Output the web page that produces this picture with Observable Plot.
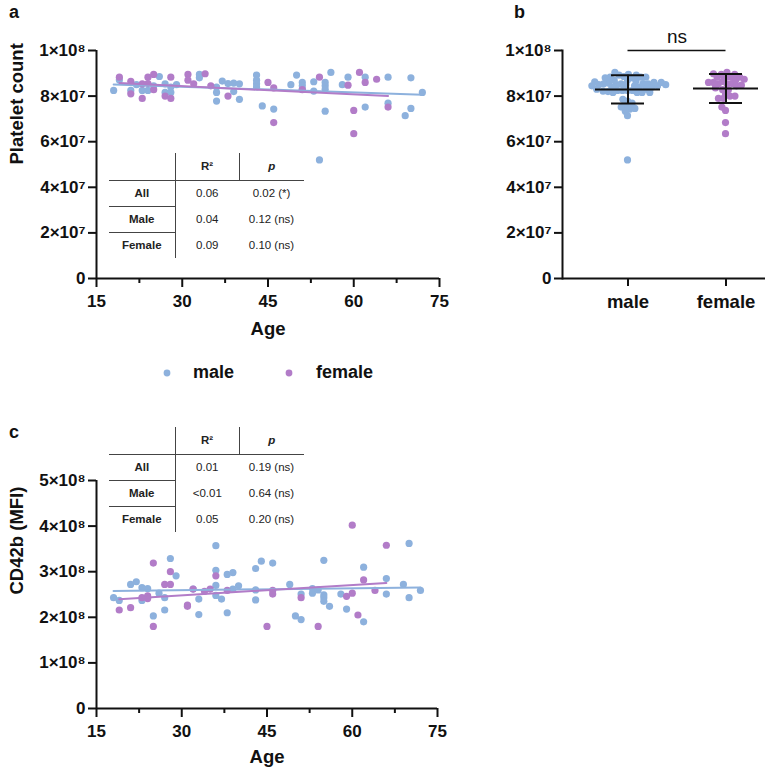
<!DOCTYPE html>
<html><head><meta charset="utf-8">
<script src="https://cdn.jsdelivr.net/npm/d3@7"></script>
<script src="https://cdn.jsdelivr.net/npm/@observablehq/plot@0.6"></script>
<style>
html,body{margin:0;padding:0;background:#fff;overflow:hidden}
#fig{position:relative;width:765px;height:772px;font-family:"Liberation Sans",Arial,sans-serif;color:#111}
.layer{position:absolute}
.plab{position:absolute;font-weight:bold;font-size:18px}
table.stat{position:absolute;border-collapse:collapse;table-layout:fixed;font-size:11.5px;color:#222}
table.stat td{padding:0;text-align:center;vertical-align:middle;white-space:nowrap}
table.stat td.lab{font-weight:bold}
table.stat .hd{font-weight:bold}
.legend{position:absolute;font-weight:bold;font-size:18px;line-height:20px}
.legend span.it{position:absolute;white-space:nowrap}
</style></head>
<body><div id="fig"></div>
<script>
// ---------- data ----------
const sexes = ["male", "female"];
const colors = ["#8db1dd", "#b27cc8"];

const maleAgeA = [18,19,21,22,23,24,25,26,27,27,28,28,29,33,33,36,36,36,37,38,39,39,40,40,43,43,43,43,44,46,49,50,51,51,51,53,53,54,55,55,55,55,56,58,59,62,62,66,66,69,70,70,72];
const malePltA = [8.25,8.71,8.25,8.5,8.25,8.25,8.45,8.86,8.54,8.16,8.16,8.4,8.5,8.95,8.8,8.4,8.16,7.78,8.66,8.55,8.57,8.2,8.54,7.86,8.92,8.7,8.54,8.4,7.57,7.43,8.5,8.92,8.6,8.45,8.3,8.63,8.22,5.2,8.6,8.45,8.3,7.34,9.04,8.5,8.83,8.83,7.52,8.83,7.69,7.14,8.8,7.46,8.16]; // ×1e7
const femaleAgeA = [19,21,21,23,23,24,24,25,25,27,28,28,31,31,32,34,35,38,45,46,46,51,54,59,60,60,61,62,64,66];
const femalePltA = [8.83,8.65,8.1,8.54,7.9,8.83,8.55,8.95,8.28,8.0,8.83,7.9,8.95,8.7,8.54,8.98,8.45,8.0,8.6,8.36,6.84,8.28,8.83,8.48,7.37,6.35,9.04,8.6,8.74,7.52]; // ×1e7

const maleAgeC = [18,19,21,22,23,23,24,25,26,27,27,28,29,32,33,33,36,36,36,36,37,38,38,39,39,40,43,43,43,44,46,49,50,51,51,53,53,54,55,55,55,55,56,58,59,62,62,66,66,69,70,70,72];
const maleCdC = [2.43,2.37,2.72,2.78,2.65,2.37,2.63,2.03,2.53,2.43,2.16,3.29,2.91,2.62,2.4,2.06,3.57,3.03,2.7,2.48,2.4,2.94,2.1,2.98,2.62,2.69,3.07,2.6,2.38,3.23,3.19,2.72,2.03,2.51,1.95,2.63,2.53,2.6,3.25,2.49,2.43,2.35,2.24,2.51,2.18,3.1,1.9,2.85,2.51,2.72,3.62,2.43,2.59]; // ×1e8
const femaleAgeC = [19,21,23,24,24,25,25,27,28,28,31,31,32,34,35,36,38,45,46,46,51,54,59,60,60,61,62,64,66];
const femaleCdC = [2.16,2.21,2.43,2.47,2.41,3.19,1.8,2.72,3.0,2.72,2.27,2.24,2.62,2.57,2.62,2.91,2.59,1.8,2.59,2.51,2.43,1.8,2.46,4.02,2.53,2.05,2.82,2.59,3.58]; // ×1e8

const ageTicks = [15, 30, 45, 60, 75];
const ageMinor = [22.5, 37.5, 52.5, 67.5];
const pltTicks = [0, 2e7, 4e7, 6e7, 8e7, 1e8];
const cdTicks = [0, 1e8, 2e8, 3e8, 4e8, 5e8];

const rowLabels = ["All", "Male", "Female"];
const r2A = ["0.06", "0.04", "0.09"];
const pA = ["0.02 (*)", "0.12 (ns)", "0.10 (ns)"];
const r2C = ["0.01", "<0.01", "0.05"];
const pC = ["0.19 (ns)", "0.64 (ns)", "0.20 (ns)"];
const sigLabel = "ns";

// ---------- tables built from arrays ----------
const build = (ages, vals, sex, unit) => ages.map((a, i) => ({age: a, value: vals[i] * unit, sex}));
const dataA = [...build(maleAgeA, malePltA, "male", 1e7), ...build(femaleAgeA, femalePltA, "female", 1e7)];
const dataC = [...build(maleAgeC, maleCdC, "male", 1e8), ...build(femaleAgeC, femaleCdC, "female", 1e8)];
const stats = sexes.map(s => {
  const v = dataA.filter(d => d.sex === s).map(d => d.value);
  const m = d3.mean(v), sd = d3.deviation(v);
  return {sex: s, mean: m, lo: m - sd, hi: m + sd};
});
const bracket = [{from: sexes[0], to: sexes[1], y: 1e8, label: sigLabel}];

// ---------- helpers ----------
const SUP = "⁰¹²³⁴⁵⁶⁷⁸⁹";
const sci = d => {
  if (d === 0) return "0";
  const e = Math.floor(Math.log10(d) + 1e-9);
  const m = Math.round(d / Math.pow(10, e));
  return m + "×10" + String(e).split("").map(c => SUP[+c]).join("");
};
const FONT = '"Liberation Sans", Arial, sans-serif';
const baseStyle = {background: "transparent", fontFamily: FONT, overflow: "visible", color: "#111"};
const color = {domain: sexes, range: colors};
const axisTxt = {fontSize: 17, fontWeight: "bold"};
const titleTxt = {fontSize: 18.5, fontWeight: "bold", fill: "#111"};
const DOT_R = 3.6;

function scatterPanel(data, yDomain, yTicks, yLabel, opts) {
  return Plot.plot({
    width: 450, height: opts.height,
    marginTop: opts.mt, marginBottom: opts.mb, marginLeft: 96, marginRight: opts.mr,
    style: baseStyle,
    x: {domain: [15, 75]},
    y: {domain: yDomain},
    color,
    marks: [
      Plot.ruleX([15], {strokeWidth: 2}),
      Plot.ruleY([0], {strokeWidth: 2}),
      Plot.axisY({ticks: yTicks, tickFormat: sci, tickSize: 8, tickPadding: 3, strokeWidth: 2, ...axisTxt, label: null}),
      Plot.axisX({ticks: ageTicks, tickFormat: d => String(d), tickSize: 9, tickPadding: 7, strokeWidth: 2, ...axisTxt, label: null}),
      Plot.axisX({ticks: ageMinor, tickSize: 5, strokeWidth: 2, text: null, label: null}),
      Plot.text(["Age"], {frameAnchor: "bottom", dy: opts.ageDy, ...titleTxt}),
      Plot.text([yLabel], {frameAnchor: "left", dx: -79, rotate: -90, ...titleTxt}),
      Plot.dot(data, {x: "age", y: "value", fill: "sex", r: DOT_R}),
      Plot.linearRegressionY(data, {x: "age", y: "value", stroke: "sex", strokeWidth: 2, ci: 0})
    ]
  });
}

const fig = document.getElementById("fig");
function place(el, left, top) {
  el.classList.add("layer");
  el.style.left = left + "px";
  el.style.top = top + "px";
  fig.appendChild(el);
}

// ---------- panel a ----------
place(scatterPanel(dataA, [0, 1e8], pltTicks, "Platelet count", {height: 345, mt: 50, mb: 67, mr: 11, ageDy: 56}), 0, 0);

// ---------- panel b (dots layer, then axes/error-bar layer) ----------
const bDots = Plot.plot({
  width: 196, height: 345, marginTop: 50, marginBottom: 67, marginLeft: 0, marginRight: 0,
  style: baseStyle,
  fx: {domain: sexes, padding: 0, axis: null},
  y: {domain: [0, 1e8], axis: null},
  color,
  marks: [
    Plot.dot(dataA, Plot.dodgeX({anchor: "middle", padding: -2.2}, {fx: "sex", y: "value", fill: "sex", r: DOT_R}))
  ]
});
place(bDots, 578, 0);

const bAxes = Plot.plot({
  width: 295, height: 345, marginTop: 50, marginBottom: 67, marginLeft: 92, marginRight: 0,
  style: baseStyle,
  x: {type: "band", domain: sexes, range: [108, 304], paddingInner: 0.337, paddingOuter: 0.1685},
  y: {domain: [0, 1e8]},
  marks: [
    Plot.frame({anchor: "left", strokeWidth: 2, stroke: "#111"}),
    Plot.ruleY([0], {strokeWidth: 2}),
    Plot.axisY({ticks: pltTicks, tickFormat: sci, tickSize: 8, tickPadding: 3, strokeWidth: 2, ...axisTxt, label: null}),
    Plot.axisX({tickSize: 8, tickPadding: 8, strokeWidth: 2, fontSize: 18.5, fontWeight: "bold", label: null}),
    Plot.ruleX(stats, {x: "sex", y1: "lo", y2: "hi", strokeWidth: 2}),
    Plot.tickY(stats, {x: "sex", y: "mean", strokeWidth: 2}),
    Plot.tickY(stats, {x: "sex", y: "lo", strokeWidth: 2, insetLeft: 16, insetRight: 16}),
    Plot.tickY(stats, {x: "sex", y: "hi", strokeWidth: 2, insetLeft: 16, insetRight: 16}),
    Plot.ruleY(bracket, {x1: "from", x2: "to", y: "y", strokeWidth: 1.6, insetLeft: 32.5, insetRight: 32.5}),
    Plot.text(bracket, {x: "from", y: "y", text: "label", dx: 49, dy: -14, fontSize: 19, fill: "#111"})
  ]
});
place(bAxes, 470, 0);

// ---------- legend ----------
const leg = document.createElement("div");
leg.className = "legend";
leg.style.left = "0px"; leg.style.top = "0px";
const legPos = [[167, 193], [289, 316]];
sexes.forEach((s, i) => {
  const dot = document.createElementNS("http://www.w3.org/2000/svg", "svg");
  dot.setAttribute("width", 10); dot.setAttribute("height", 10);
  dot.style.position = "absolute";
  dot.style.left = (legPos[i][0] - 5) + "px"; dot.style.top = (373 - 5) + "px";
  const c = document.createElementNS("http://www.w3.org/2000/svg", "circle");
  c.setAttribute("cx", 5); c.setAttribute("cy", 5); c.setAttribute("r", 3.4); c.setAttribute("fill", colors[i]);
  dot.appendChild(c);
  leg.appendChild(dot);
  const t = document.createElement("span");
  t.className = "it"; t.textContent = s;
  t.style.left = legPos[i][1] + "px"; t.style.top = (373 - 11) + "px";
  leg.appendChild(t);
});
fig.appendChild(leg);

// ---------- panel c ----------
place(scatterPanel(dataC, [0, 5e8], cdTicks, "CD42b (MFI)", {height: 355, mt: 60, mb: 67, mr: 13, ageDy: 54}), 0, 420);

// ---------- stats tables ----------
function statTable(r2, p, top) {
  const B = "1.3px solid #444";
  const tb = document.createElement("table");
  tb.className = "stat";
  tb.style.left = "109px"; tb.style.top = top + "px";
  const cg = document.createElement("colgroup");
  [66, 64, 65].forEach(w => { const c = document.createElement("col"); c.style.width = w + "px"; cg.appendChild(c); });
  tb.appendChild(cg);
  const hr = tb.insertRow();
  hr.style.height = "27px";
  const h0 = hr.insertCell(); h0.style.borderBottom = B;
  const h1 = hr.insertCell(); h1.className = "hd"; h1.textContent = "R²";
  h1.style.borderLeft = B; h1.style.borderRight = B; h1.style.borderBottom = B;
  const h2 = hr.insertCell(); h2.className = "hd"; h2.style.borderBottom = B;
  const em = document.createElement("i"); em.textContent = "p"; h2.appendChild(em);
  rowLabels.forEach((lab, i) => {
    const r = tb.insertRow();
    r.style.height = "26px";
    const c0 = r.insertCell(); c0.className = "lab"; c0.textContent = lab; c0.style.borderRight = B;
    if (i < rowLabels.length - 1) c0.style.borderBottom = B;
    const c1 = r.insertCell(); c1.textContent = r2[i];
    const c2 = r.insertCell(); c2.textContent = p[i];
  });
  fig.appendChild(tb);
}
statTable(r2A, pA, 153);
statTable(r2C, pC, 427);

// ---------- panel labels ----------
[["a", 9, 2], ["b", 514, 2], ["c", 9, 422]].forEach(([t, x, y]) => {
  const d = document.createElement("div");
  d.className = "plab"; d.textContent = t; d.style.left = x + "px"; d.style.top = y + "px";
  fig.appendChild(d);
});
</script>
</body></html>
